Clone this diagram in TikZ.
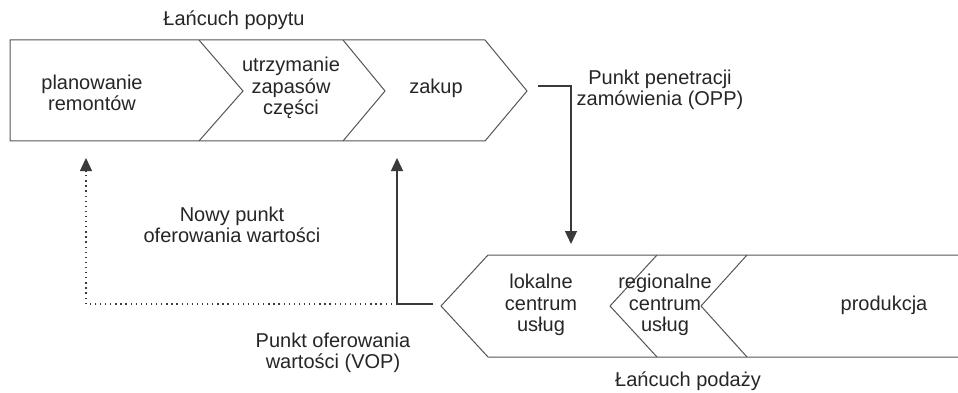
\documentclass[tikz,border=0pt]{standalone}
\usepackage{fontspec}
\setmainfont{Liberation Sans}
\usetikzlibrary{arrows.meta}
\definecolor{ink}{HTML}{3A3A3A}
\definecolor{edge}{HTML}{555555}
\definecolor{txt}{HTML}{262626}
\begin{document}
\begin{tikzpicture}[x=1pt,y=-1pt,
  chainline/.style={draw=edge, line width=1pt, line join=miter},
  link/.style={draw=ink, line width=1.3pt, -{Triangle[length=13pt,width=12pt]}},
  dotlink/.style={link, dash pattern=on 1.3pt off 3.8pt},
  lbl/.style={align=center, text=txt, font=\fontsize{20}{21.5}\selectfont, inner sep=0pt}]
\useasboundingbox[fill=white] (0,0) rectangle (958,393);

% demand chain (top, pointing right)
\draw[chainline] (10,40) -- (485,40) -- (527,91) -- (485,141) -- (10,141) -- cycle;
\draw[chainline] (199,40) -- (243,91) -- (199,141);
\draw[chainline] (343,40) -- (385,91) -- (343,141);

% supply chain (bottom, pointing left, open to the right)
\draw[chainline] (960,255) -- (488,255) -- (441,306) -- (488,357) -- (960,357);
\draw[chainline] (657,255) -- (610,306) -- (657,357);
\draw[chainline] (747,255) -- (701,306) -- (747,357);

% stage labels
\node[lbl] (demand) at (234,20) {Łańcuch popytu};
\node[lbl] (plan) at (92,93) {planowanie\\remontów};
\node[lbl] (stock) at (291,88) {utrzymanie\\zapasów\\części};
\node[lbl] (buy) at (436,88) {zakup};
\node[lbl] (opp) at (660,90) {Punkt penetracji\\zamówienia (OPP)};
\node[lbl] (newvop) at (232,225) {Nowy punkt\\oferowania wartości};
\node[lbl] (vop) at (333,353) {Punkt oferowania\\wartości (VOP)};
\node[lbl] (local) at (541,305) {lokalne\\centrum\\usług};
\node[lbl] (region) at (665,305) {regionalne\\centrum\\usług};
\node[lbl] (prod) at (884,305) {produkcja};
\node[lbl] (supply) at (688,381) {Łańcuch podaży};

% connector anchor points
\coordinate (oppStart) at (538,86);
\coordinate (oppBend) at (571,86);
\coordinate (oppEnd) at (571,244);
\coordinate (vopStart) at (433,304);
\coordinate (vopBend) at (397,304);
\coordinate (vopEnd) at (397,158);
\coordinate (newBend) at (86,304);
\coordinate (newEnd) at (86,158);

% order penetration point
\draw[link] (oppStart) -- (oppBend) -- (oppEnd);
% value offering point
\draw[link] (vopStart) -- (vopBend) -- (vopEnd);
% new value offering point
\draw[dotlink] (vopBend) -- (newBend) -- (newEnd);
\end{tikzpicture}
\end{document}
